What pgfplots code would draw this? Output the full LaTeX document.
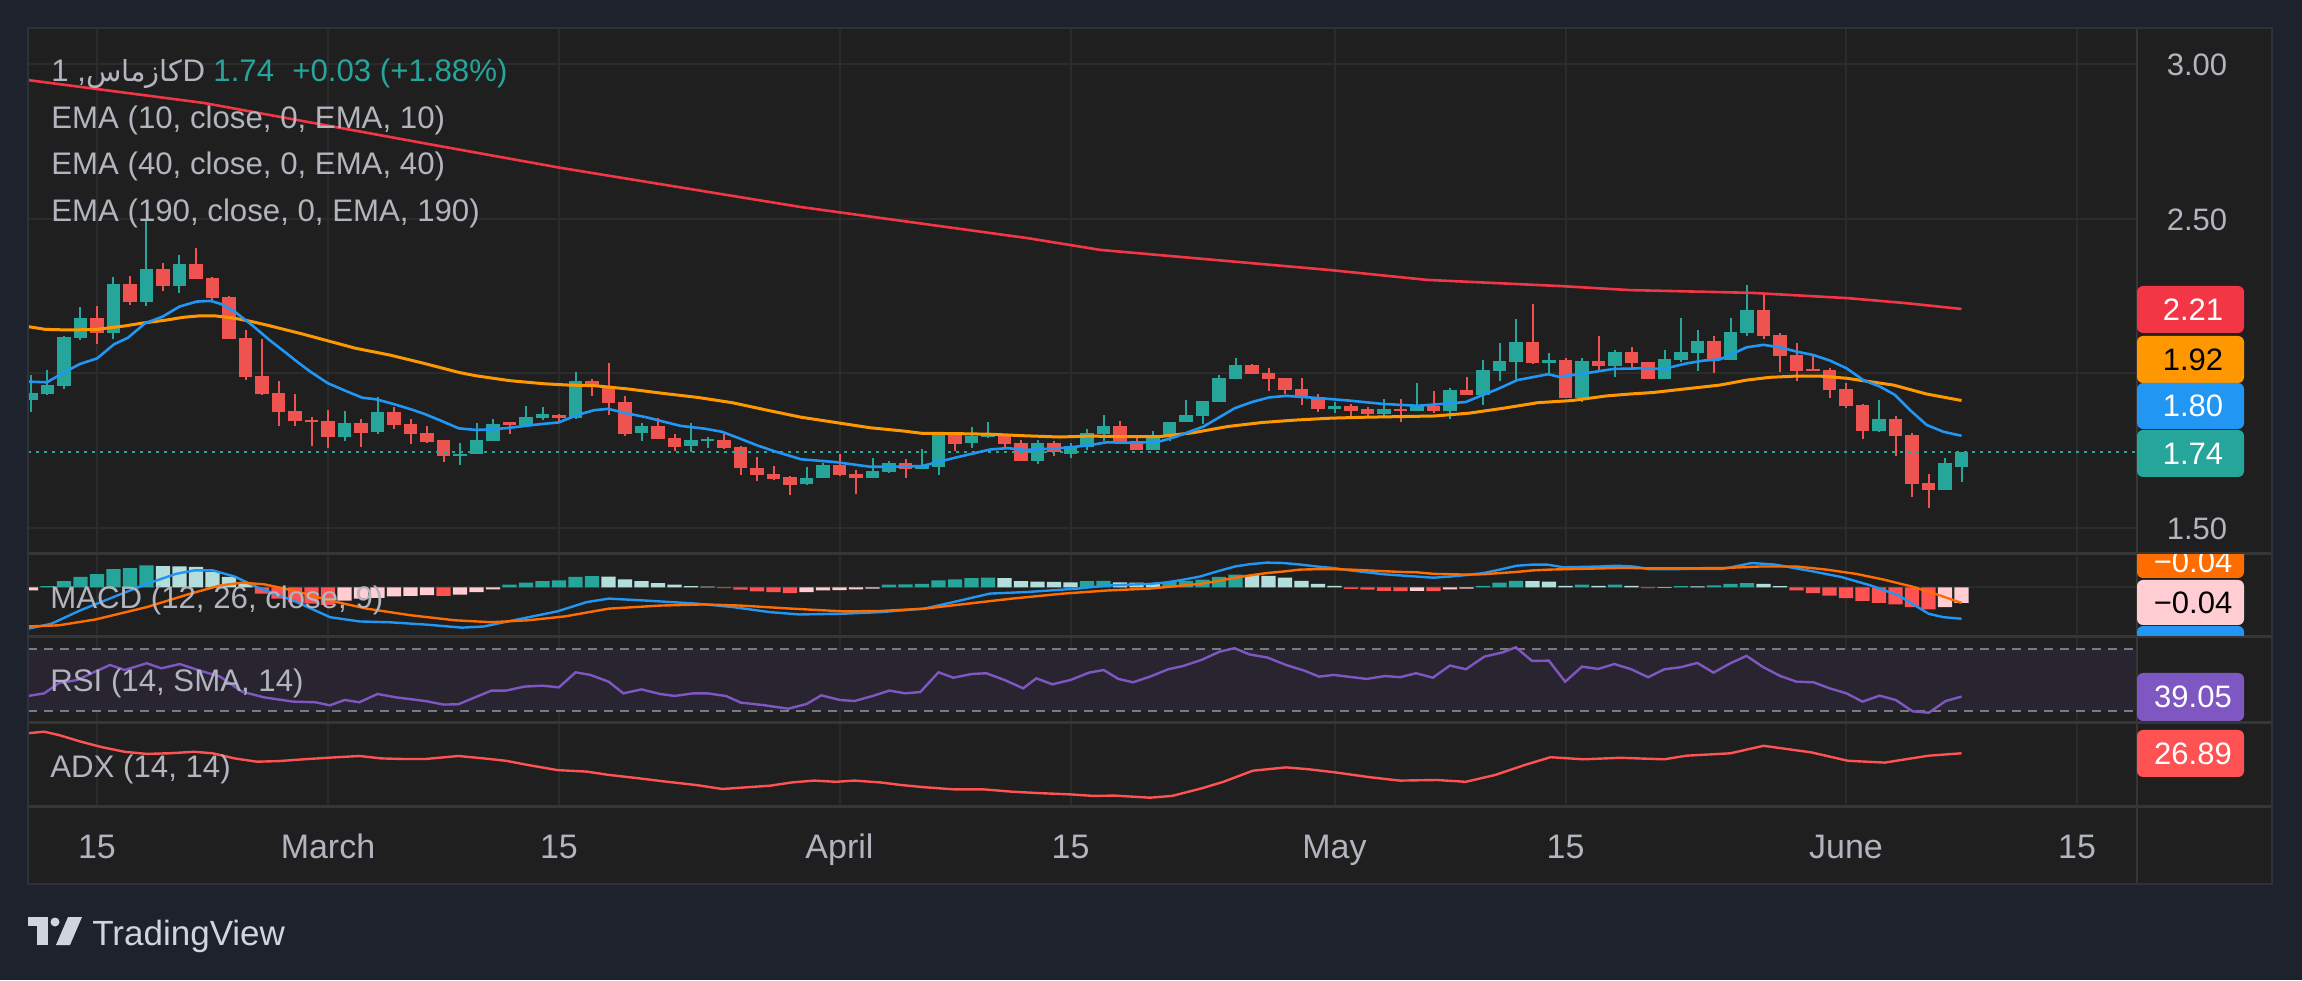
\documentclass[border=0pt]{standalone}
\usepackage{fontspec}
\setmainfont{Liberation Sans}
\newfontfamily\arabicfont[Script=Arabic]{DejaVu Sans}
\TeXXeTstate=1
\usepackage{pgfplots}
\usepackage{pgfplotstable}
\pgfplotsset{compat=1.18}

\definecolor{outerbg}{HTML}{1E222D}
\definecolor{panebg}{HTML}{1F1F1F}
\definecolor{gridc}{HTML}{2B2B2B}
\definecolor{sepc}{HTML}{363636}
\definecolor{framec}{HTML}{2E313A}
\definecolor{txtc}{HTML}{B2B5BE}
\definecolor{tvup}{HTML}{26A69A}
\definecolor{tvdown}{HTML}{EF5350}
\definecolor{ema10}{HTML}{2196F3}
\definecolor{ema40}{HTML}{FF9800}
\definecolor{ema190}{HTML}{F23645}
\definecolor{hup}{HTML}{26A69A}
\definecolor{huplight}{HTML}{B2DFDB}
\definecolor{hdown}{HTML}{FF5252}
\definecolor{hdownlight}{HTML}{FFCDD2}
\definecolor{macdc}{HTML}{2196F3}
\definecolor{sigc}{HTML}{FF6D00}
\definecolor{rsic}{HTML}{7E57C2}
\definecolor{rsiband}{HTML}{292530}
\definecolor{dashc}{HTML}{787B86}
\definecolor{adxc}{HTML}{FF5252}
\definecolor{logoc}{HTML}{D1D4DC}

\newcommand\legfont{\fontsize{15.6}{19}\selectfont}
\newcommand\pfont{\fontsize{15.5}{18}\selectfont}
\newcommand\tfont{\fontsize{17}{20}\selectfont}

% up candles: x low high bodybottom bodytop
\pgfplotstableread{
x l h b t
-4 1.876 1.995 1.914 1.935
-3 1.930 2.011 1.933 1.962
-2 1.950 2.121 1.960 2.117
-1 2.108 2.214 2.115 2.179
1 2.111 2.311 2.131 2.289
3 2.216 2.496 2.232 2.337
5 2.258 2.383 2.283 2.353
15 1.781 1.878 1.794 1.839
17 1.804 1.923 1.810 1.875
22 1.704 1.775 1.733 1.739
23 1.739 1.839 1.739 1.784
24 1.781 1.852 1.781 1.836
26 1.833 1.894 1.833 1.859
27 1.849 1.891 1.857 1.869
29 1.853 2.004 1.857 1.975
33 1.782 1.839 1.808 1.830
36 1.747 1.839 1.766 1.784
37 1.760 1.794 1.782 1.787
43 1.640 1.697 1.643 1.662
44 1.663 1.710 1.663 1.704
47 1.663 1.726 1.663 1.684
48 1.679 1.717 1.682 1.710
50 1.689 1.755 1.692 1.704
51 1.672 1.807 1.698 1.807
53 1.760 1.827 1.776 1.797
54 1.792 1.843 1.795 1.804
57 1.708 1.784 1.718 1.775
59 1.727 1.775 1.740 1.765
60 1.753 1.820 1.763 1.807
61 1.781 1.865 1.804 1.830
64 1.753 1.814 1.753 1.797
65 1.782 1.843 1.795 1.843
66 1.841 1.914 1.841 1.865
67 1.837 1.911 1.863 1.911
68 1.908 1.995 1.908 1.985
69 1.983 2.050 1.983 2.027
75 1.873 1.908 1.883 1.895
78 1.860 1.918 1.870 1.885
80 1.879 1.969 1.879 1.895
82 1.853 1.953 1.879 1.946
84 1.899 2.043 1.931 2.011
85 1.976 2.098 2.009 2.040
86 1.983 2.176 2.038 2.101
88 1.999 2.066 2.034 2.043
90 1.908 2.050 1.921 2.040
92 1.989 2.075 2.025 2.069
95 1.983 2.075 1.983 2.046
96 2.037 2.179 2.043 2.069
97 2.009 2.140 2.066 2.105
99 2.044 2.179 2.044 2.134
100 2.119 2.286 2.130 2.205
108 1.811 1.914 1.815 1.852
112 1.624 1.726 1.624 1.710
113 1.650 1.744 1.698 1.744
}\upT

% down candles: x low high bodybottom bodytop
\pgfplotstableread{
x l h b t
0 2.095 2.218 2.131 2.179
2 2.221 2.315 2.231 2.289
4 2.266 2.357 2.283 2.337
6 2.305 2.405 2.305 2.353
7 2.234 2.311 2.245 2.308
8 2.112 2.250 2.112 2.247
9 1.978 2.140 1.989 2.114
10 1.930 2.111 1.933 1.991
11 1.830 1.975 1.875 1.936
12 1.830 1.933 1.846 1.878
13 1.765 1.859 1.841 1.848
14 1.759 1.881 1.794 1.846
16 1.762 1.852 1.807 1.839
18 1.820 1.891 1.833 1.875
19 1.772 1.852 1.804 1.836
20 1.775 1.830 1.778 1.807
21 1.713 1.784 1.733 1.784
25 1.804 1.843 1.833 1.841
28 1.839 1.869 1.857 1.865
30 1.925 1.982 1.957 1.975
31 1.866 2.033 1.905 1.960
32 1.798 1.927 1.805 1.907
34 1.786 1.856 1.789 1.830
35 1.750 1.804 1.763 1.791
38 1.756 1.804 1.760 1.784
39 1.672 1.765 1.695 1.762
40 1.653 1.730 1.672 1.694
41 1.656 1.700 1.659 1.675
42 1.605 1.668 1.640 1.665
45 1.669 1.739 1.672 1.704
46 1.611 1.688 1.663 1.675
49 1.663 1.723 1.692 1.710
52 1.750 1.807 1.773 1.804
55 1.760 1.804 1.773 1.804
56 1.718 1.784 1.718 1.775
58 1.734 1.781 1.744 1.775
62 1.775 1.846 1.778 1.830
63 1.753 1.797 1.753 1.781
70 1.999 2.030 1.999 2.027
71 1.944 2.017 1.983 2.001
72 1.934 1.985 1.947 1.985
73 1.899 1.985 1.921 1.949
74 1.876 1.933 1.883 1.923
76 1.863 1.902 1.879 1.895
77 1.857 1.892 1.870 1.883
79 1.841 1.918 1.879 1.886
81 1.873 1.944 1.879 1.895
83 1.931 1.988 1.931 1.946
87 2.031 2.224 2.034 2.101
89 1.921 2.050 1.921 2.043
91 2.005 2.121 2.025 2.040
93 2.015 2.085 2.034 2.069
94 1.980 2.037 1.983 2.037
98 2.002 2.121 2.044 2.105
101 2.111 2.253 2.121 2.205
102 2.005 2.130 2.056 2.124
103 1.976 2.098 2.009 2.059
104 2.006 2.063 2.006 2.014
105 1.921 2.017 1.947 2.011
106 1.889 1.969 1.895 1.949
107 1.789 1.901 1.815 1.898
109 1.734 1.862 1.798 1.852
110 1.601 1.807 1.643 1.801
111 1.566 1.675 1.624 1.645
}\downT

\pgfplotsset{
  pane/.style={scale only axis, anchor=south west, width=1054.5pt,
    xmin=-4.1818, xmax=123.636, enlargelimits=false,
    axis line style={draw=none}, tick style={draw=none},
    xtick={0,14,28,45,59,75,89,106,120}, xticklabels={}, yticklabels={},
    xmajorgrids, major grid style={draw=gridc, line width=1pt}, clip=true},
  wick/.style={draw=none, mark=none, forget plot, error bars/.cd, y dir=plus, y explicit,
    error mark=none, error bar style={draw=#1, line width=1pt}},
  body/.style={draw=none, mark=none, forget plot, error bars/.cd, y dir=plus, y explicit,
    error mark=none, error bar style={draw=#1, line width=6.9pt}},
  hbar/.style={ybar, bar width=7.2pt, bar shift=0pt, fill=#1, draw=none, forget plot},
}

\begin{document}
\begin{tikzpicture}
\begin{scope}[x=0.5pt,y=0.5pt]
\useasboundingbox (0,0) rectangle (2302,980);
\fill[outerbg] (0,0) rectangle (2302,980);
\fill[panebg] (28,96) rectangle (2272,952);
\end{scope}

% ---------------- price pane ----------------
\begin{axis}[pane, at={(14pt,213pt)}, height=263pt,
  ymin=1.4158, ymax=3.1164, ytick={1.5,2,2.5,3}, ymajorgrids]
\addplot[wick=tvup] table[x=x, y=l, y error expr=\thisrow{h}-\thisrow{l}] {\upT};
\addplot[body=tvup] table[x=x, y=b, y error expr=\thisrow{t}-\thisrow{b}] {\upT};
\addplot[wick=tvdown] table[x=x, y=l, y error expr=\thisrow{h}-\thisrow{l}] {\downT};
\addplot[body=tvdown] table[x=x, y=b, y error expr=\thisrow{t}-\thisrow{b}] {\downT};
\addplot[tvup, line width=1pt, dash pattern=on 1.5pt off 2.5pt] coordinates {(-4.1818,1.744) (123.636,1.744)};
\addplot[ema190, line width=1.3pt] coordinates {(-4.18,2.948) (6.48,2.874) (20.42,2.738) (28.12,2.664) (42.6,2.538) (56.4,2.437) (60.8,2.399) (74.7,2.334) (80.6,2.302) (88.7,2.282) (92.9,2.269) (100.3,2.260) (106.1,2.243) (109.6,2.227) (113.0,2.208)};
\addplot[ema40, line width=1.5pt] coordinates {(-4.18,2.151) (-3.13,2.142) (-1.67,2.140) (0,2.142) (1.67,2.153) (2.71,2.162) (4.18,2.172) (5.22,2.181) (6.26,2.186) (7.10,2.186) (8.35,2.178) (9.39,2.167) (10.44,2.154) (11.48,2.140) (12.53,2.126) (13.99,2.105) (15.66,2.081) (17.75,2.059) (19.83,2.032) (21.92,2.003) (22.96,1.992) (25.05,1.976) (27.14,1.966) (28.56,1.962) (30.15,1.960) (32.24,1.949) (34.32,1.935) (36.41,1.922) (38.50,1.905) (40.59,1.881) (42.67,1.858) (44.76,1.841) (46.85,1.824) (48.94,1.813) (49.98,1.806) (52.07,1.805) (54.16,1.803) (56.24,1.798) (58.33,1.794) (60.18,1.797) (62.27,1.795) (64.35,1.795) (66.44,1.808) (68.53,1.828) (70.62,1.841) (72.71,1.849) (74.8,1.855) (76.88,1.858) (78.97,1.860) (81.06,1.862) (83.14,1.871) (85.23,1.887) (87.32,1.905) (89.41,1.912) (91.5,1.927) (92.9,1.933) (94.32,1.938) (96.34,1.950) (98.36,1.962) (99.98,1.978) (101.39,1.987) (103.01,1.991) (104.42,1.991) (106.04,1.984) (107.05,1.976) (108.87,1.962) (110.89,1.933) (113.0,1.912)};
\addplot[ema10, line width=1.3pt] coordinates {(-4.18,1.973) (-3.03,1.971) (-2.09,2.000) (-1.04,2.030) (0,2.048) (1.04,2.094) (1.88,2.115) (2.92,2.162) (3.97,2.183) (5.01,2.216) (6.05,2.232) (6.89,2.234) (7.52,2.224) (8.35,2.199) (9.39,2.156) (10.44,2.108) (11.48,2.065) (12.11,2.038) (12.94,2.005) (13.99,1.968) (15.03,1.944) (16.08,1.921) (16.91,1.916) (17.95,1.901) (19.00,1.884) (19.83,1.869) (20.88,1.846) (21.92,1.822) (22.96,1.817) (24.01,1.819) (25.05,1.824) (26.10,1.831) (27.14,1.837) (27.97,1.841) (29.10,1.865) (30.15,1.881) (30.98,1.885) (32.24,1.869) (33.28,1.858) (34.32,1.844) (35.37,1.830) (36.83,1.821) (37.87,1.811) (38.92,1.790) (39.96,1.768) (41.00,1.749) (42.67,1.722) (44.76,1.713) (46.85,1.698) (48.1,1.698) (49.98,1.700) (51.02,1.714) (52.07,1.728) (54.16,1.754) (55.2,1.758) (56.24,1.752) (58.33,1.758) (59.38,1.763) (60.18,1.768) (61.2,1.777) (62.9,1.775) (64.35,1.779) (65.4,1.795) (67.07,1.828) (68.95,1.887) (69.99,1.907) (71.04,1.922) (72.08,1.927) (73.75,1.921) (75.84,1.912) (77.93,1.901) (80.01,1.895) (81.06,1.899) (82.94,1.907) (85.02,1.952) (86.07,1.978) (87.95,1.997) (88.57,1.989) (89.82,1.997) (91.91,2.014) (93.51,2.016) (94.93,2.014) (96.34,2.032) (97.35,2.041) (98.36,2.045) (99.98,2.084) (100.99,2.092) (102.0,2.084) (103.01,2.070) (104.02,2.059) (105.03,2.041) (106.04,2.016) (107.05,1.978) (108.06,1.957) (108.97,1.930) (109.88,1.881) (110.89,1.833) (111.9,1.811) (113.0,1.798)};
\end{axis}

% ---------------- MACD pane ----------------
\begin{axis}[pane, at={(14pt,171.5pt)}, height=41.5pt,
  ymin=-0.1282, ymax=0.0863, ytick={0}, ymajorgrids]
\addplot[hbar=hup] coordinates {(-3,0.003) (-2,0.016) (-1,0.027) (0,0.034) (1,0.047) (2,0.050) (3,0.057) (25,0.007) (26,0.012) (27,0.016) (28,0.018) (29,0.027) (30,0.029) (48,0.007) (49,0.008) (50,0.009) (51,0.018) (52,0.021) (53,0.024) (54,0.025) (60,0.016) (61,0.017) (65,0.014) (66,0.017) (67,0.020) (68,0.027) (69,0.033) (84,0.004) (85,0.012) (86,0.017) (90,0.007) (92,0.007) (96,0.003) (98,0.005) (99,0.009) (100,0.011)};
\addplot[hbar=huplight] coordinates {(4,0.055) (5,0.054) (6,0.053) (7,0.040) (8,0.027) (9,0.011) (31,0.028) (32,0.021) (33,0.016) (34,0.011) (35,0.007) (36,0.003) (37,0.002) (55,0.024) (56,0.016) (57,0.015) (58,0.014) (59,0.013) (62,0.013) (63,0.012) (64,0.011) (70,0.032) (71,0.030) (72,0.025) (73,0.017) (74,0.009) (75,0.004) (87,0.0165) (88,0.015) (89,0.004) (91,0.004) (93,0.004) (97,0.0025) (101,0.009) (102,0.003)};
\addplot[hbar=hdown] coordinates {(10,-0.016) (11,-0.029) (12,-0.038) (13,-0.042) (14,-0.045) (21,-0.022) (38,-0.002) (39,-0.006) (40,-0.010) (41,-0.012) (42,-0.015) (76,-0.004) (77,-0.006) (78,-0.009) (79,-0.0095) (81,-0.0095) (94,-0.002) (103,-0.008) (104,-0.015) (105,-0.021) (106,-0.028) (107,-0.035) (108,-0.040) (109,-0.044) (110,-0.051) (111,-0.057)};
\addplot[hbar=hdownlight] coordinates {(-4,-0.008) (15,-0.034) (16,-0.029) (17,-0.027) (18,-0.023) (19,-0.022) (20,-0.020) (22,-0.019) (23,-0.012) (24,-0.005) (43,-0.012) (44,-0.008) (45,-0.007) (46,-0.005) (47,-0.003) (80,-0.009) (82,-0.005) (83,-0.0035) (95,-0.0015) (112,-0.051) (113,-0.040)};
\addplot[macdc, line width=1.2pt] coordinates {(-4.19,-0.107) (-2.77,-0.094) (-0.99,-0.059) (1.23,-0.021) (3.01,0.009) (4.79,0.035) (5.90,0.044) (7.01,0.044) (8.34,0.028) (9.68,0.001) (11.9,-0.034) (14.12,-0.077) (15.90,-0.088) (17.68,-0.090) (19.90,-0.096) (22.12,-0.104) (23.45,-0.101) (25.24,-0.085) (27.9,-0.062) (29.68,-0.038) (31.01,-0.029) (33.24,-0.034) (36.35,-0.042) (38.57,-0.051) (40.79,-0.064) (42.57,-0.070) (45.24,-0.068) (47.46,-0.064) (50.12,-0.055) (51.90,-0.038) (54.12,-0.016) (56.35,-0.012) (59.46,-0.003) (61.24,0.005) (63.82,0.009) (64.83,0.013) (65.84,0.020) (66.85,0.028) (67.86,0.041) (68.97,0.054) (69.88,0.060) (70.89,0.064) (71.9,0.063) (72.91,0.059) (73.92,0.054) (74.93,0.050) (75.94,0.044) (76.95,0.039) (77.96,0.034) (78.97,0.031) (79.98,0.028) (80.99,0.025) (82.0,0.028) (83.01,0.032) (84.02,0.037) (85.03,0.046) (86.04,0.056) (87.05,0.059) (87.86,0.059) (88.87,0.052) (90.08,0.053) (91.09,0.054) (92.1,0.056) (93.11,0.054) (94.12,0.047) (95.33,0.047) (96.8,0.048) (98.55,0.048) (100.3,0.063) (101.7,0.059) (103.9,0.042) (105.7,0.027) (107.5,0.005) (109.2,-0.021) (111.0,-0.068) (111.9,-0.077) (113.0,-0.081)};
\addplot[sigc, line width=1.2pt] coordinates {(-4.19,-0.101) (-2.32,-0.098) (-0.1,-0.083) (3.01,-0.051) (5.68,-0.016) (7.46,0.005) (8.79,0.012) (10.12,0.008) (11.9,-0.008) (14.12,-0.034) (16.35,-0.055) (19.01,-0.072) (21.68,-0.085) (23.9,-0.090) (26.12,-0.085) (28.35,-0.075) (31.01,-0.055) (34.13,-0.047) (36.79,-0.044) (39.01,-0.047) (42.12,-0.055) (45.24,-0.062) (47.46,-0.061) (50.12,-0.055) (52.79,-0.042) (55.45,-0.029) (58.57,-0.016) (61.24,-0.008) (63.82,-0.003) (64.83,0.001) (65.84,0.005) (66.85,0.009) (67.86,0.016) (68.87,0.024) (69.88,0.031) (70.89,0.037) (71.9,0.041) (72.91,0.046) (73.92,0.047) (74.93,0.047) (75.94,0.046) (76.95,0.044) (77.96,0.042) (78.97,0.040) (79.98,0.039) (80.99,0.035) (82.0,0.034) (83.01,0.033) (84.02,0.034) (85.03,0.037) (86.04,0.040) (87.05,0.044) (88.06,0.046) (89.07,0.047) (90.08,0.048) (91.09,0.049) (92.1,0.050) (93.11,0.050) (94.12,0.049) (95.33,0.049) (98.55,0.050) (100.8,0.054) (103.0,0.054) (104.8,0.046) (106.6,0.035) (108.3,0.020) (110.1,0.001) (111.5,-0.018) (113.0,-0.040)};
\end{axis}

% ---------------- RSI pane ----------------
\begin{axis}[pane, at={(14pt,128.5pt)}, height=43pt, ymin=22, ymax=78, ytick=\empty]
\addplot[draw=none, fill=rsiband, forget plot] coordinates {(-5,30) (125,30) (125,70) (-5,70)} -- cycle;
\addplot[dashc, line width=1pt, dash pattern=on 4.5pt off 3.5pt] coordinates {(-4.1818,70) (123.636,70)};
\addplot[dashc, line width=1pt, dash pattern=on 4.5pt off 3.5pt] coordinates {(-4.1818,30) (123.636,30)};
\addplot[rsic, line width=1.2pt] coordinates {(-4.19,39.6) (-3.2,41.3) (-2.32,47.9) (-1.21,50.0) (-0.1,55.5) (0.79,59.8) (1.68,56.5) (3.01,60.9) (3.9,57.6) (5.01,60.4) (6.12,56.5) (7.46,52.2) (8.79,42.4) (10.12,38.7) (11.9,35.9) (13.23,35.5) (14.12,33.5) (15.01,37.0) (15.9,35.5) (17.0,40.9) (18.12,38.7) (19.9,36.3) (21.0,34.0) (21.9,34.2) (23.9,43.1) (24.79,43.1) (25.9,45.7) (27.01,46.3) (27.99,45.2) (29.01,55.0) (29.9,53.3) (31.01,48.9) (31.9,41.3) (33.0,43.9) (34.12,40.9) (35.01,39.6) (36.12,41.3) (37.01,41.3) (38.12,39.6) (39.01,35.3) (40.35,33.7) (41.9,31.3) (43.01,34.4) (43.9,40.0) (45.01,37.0) (45.9,36.3) (47.01,39.6) (48.03,43.1) (49.0,41.3) (49.9,42.2) (51.0,55.0) (51.9,51.5) (53.0,53.9) (53.9,54.4) (55.0,50.0) (56.13,44.6) (56.93,51.1) (57.9,47.2) (59.0,50.0) (60.12,54.8) (61.01,56.5) (61.9,50.7) (62.79,48.5) (63.82,52.2) (64.93,57.0) (65.82,59.1) (66.94,63.1) (68.05,68.5) (68.94,70.7) (69.83,66.7) (70.94,64.6) (72.06,59.8) (73.17,56.1) (74.06,52.2) (74.95,53.3) (76.95,50.7) (78.07,52.6) (78.96,51.8) (79.94,54.4) (80.96,51.5) (81.99,59.4) (82.96,57.0) (84.08,65.2) (85.19,68.0) (85.99,71.3) (86.97,62.4) (87.99,62.6) (88.98,48.9) (90.0,58.7) (90.98,57.2) (91.96,60.4) (92.98,57.0) (94.01,51.8) (94.99,57.0) (95.97,58.3) (96.99,61.1) (97.97,54.8) (98.99,60.9) (99.97,65.7) (100.99,58.3) (102.02,52.6) (103.0,48.9) (104.03,48.5) (105.0,44.6) (106.03,41.3) (107.0,35.9) (108.03,39.8) (109.01,37.0) (110.04,29.6) (111.02,28.7) (112.04,36.3) (113.0,39.2)};
\end{axis}

% ---------------- ADX pane ----------------
\begin{axis}[pane, at={(14pt,86.5pt)}, height=42pt, ymin=9, ymax=37, ytick=\empty,
  xticklabels={15,March,15,April,15,May,15,June,15},
  xticklabel style={font=\tfont, text=txtc, anchor=base, inner sep=0pt, yshift=-25.5pt}]
\addplot[adxc, line width=1.2pt] coordinates {(-4.19,33.6) (-3.2,34.1) (-2.32,33.0) (-0.99,30.8) (0.34,28.9) (1.68,27.4) (3.01,26.7) (4.34,26.9) (5.9,27.4) (7.01,26.9) (8.34,25.2) (9.68,24.1) (11.0,24.3) (12.79,25.0) (14.57,25.6) (15.9,26.0) (17.23,25.2) (18.57,25.0) (19.9,25.0) (21.9,26.0) (23.45,25.2) (24.79,24.4) (26.12,23.0) (27.9,21.3) (29.68,20.8) (31.01,19.7) (32.79,18.6) (34.57,17.4) (36.35,16.3) (37.9,15.0) (39.46,15.6) (40.79,16.1) (42.12,17.2) (43.46,17.8) (44.79,17.4) (45.9,17.8) (47.46,17.2) (48.79,16.3) (50.12,15.6) (51.9,14.9) (53.68,14.9) (55.45,14.1) (57.23,13.6) (59.01,13.2) (60.35,12.7) (61.68,12.8) (63.82,12.1) (65.16,12.7) (66.94,15.2) (68.27,17.4) (70.05,21.1) (72.06,22.2) (73.39,21.6) (74.95,20.6) (77.18,18.9) (78.96,17.8) (81.18,18.0) (82.96,17.4) (84.75,19.7) (86.53,23.0) (88.09,25.6) (90.09,24.9) (92.32,25.4) (94.99,24.9) (96.32,26.1) (98.99,26.9) (101.0,29.4) (103.9,27.2) (106.12,24.4) (108.34,23.8) (111.0,26.1) (113.0,26.9)};
\end{axis}

\begin{scope}[x=0.5pt,y=0.5pt]
% separators and frame
\draw[sepc, line width=1.5pt] (28,426) -- (2272,426);
\draw[sepc, line width=1.5pt] (28,343) -- (2272,343);
\draw[sepc, line width=1.5pt] (28,257) -- (2272,257);
\draw[sepc, line width=1.5pt] (28,173) -- (2272,173);
\draw[sepc, line width=0.6pt] (2137,96) -- (2137,952);
\draw[framec, line width=1pt] (28,96) rectangle (2272,952);

% legend texts
\node[anchor=base west, inner sep=0, text=txtc, font=\legfont] at (51,898.3) {1 ,{\arabicfont\fontsize{14.5}{17}\selectfont\beginR کازماس\endR}D};
\node[anchor=base west, inner sep=0, text=tvup, font=\legfont] at (213,898.3) {1.74};
\node[anchor=base west, inner sep=0, text=tvup, font=\legfont] at (292,898.3) {+0.03 (+1.88\%)};
\node[anchor=base west, inner sep=0, text=txtc, font=\legfont] at (51,851.7) {EMA (10, close, 0, EMA, 10)};
\node[anchor=base west, inner sep=0, text=txtc, font=\legfont] at (51,805) {EMA (40, close, 0, EMA, 40)};
\node[anchor=base west, inner sep=0, text=txtc, font=\legfont] at (51,758.3) {EMA (190, close, 0, EMA, 190)};
\node[anchor=base west, inner sep=0, text=txtc, font=\legfont] at (50,371.7) {MACD (12, 26, close, 9)};
\node[anchor=base west, inner sep=0, text=txtc, font=\legfont] at (50,288.3) {RSI (14, SMA, 14)};
\node[anchor=base west, inner sep=0, text=txtc, font=\legfont] at (50,202.7) {ADX (14, 14)};

% price scale
\node[text=txtc, font=\pfont, inner sep=0] at (2197,915.4) {3.00};
\node[text=txtc, font=\pfont, inner sep=0] at (2197,760) {2.50};
\node[text=txtc, font=\pfont, inner sep=0] at (2197,451.5) {1.50};
\fill[ema190, rounded corners=3pt] (2137,647) rectangle (2244,694);
\node[text=white, font=\pfont, inner sep=0] at (2193,670.5) {2.21};
\fill[ema40, rounded corners=3pt] (2137,597) rectangle (2244,644);
\node[text=black, font=\pfont, inner sep=0] at (2193,620.5) {1.92};
\fill[ema10, rounded corners=3pt] (2137,551) rectangle (2244,597);
\node[text=white, font=\pfont, inner sep=0] at (2193,574) {1.80};
\fill[tvup, rounded corners=3pt] (2137,503) rectangle (2244,550);
\node[text=white, font=\pfont, inner sep=0] at (2193,526.5) {1.74};

\begin{scope}
\clip (2137,344) rectangle (2272,425);
\fill[sigc, rounded corners=3pt] (2137,402) rectangle (2244,433);
\node[text=white, font=\pfont, inner sep=0] at (2193,418) {−0.04};
\fill[macdc, rounded corners=3pt] (2137,308) rectangle (2244,354);
\fill[hdownlight, rounded corners=3pt] (2137,355) rectangle (2244,400);
\node[text=black, font=\pfont, inner sep=0] at (2193,377.5) {−0.04};
\end{scope}
\fill[rsic, rounded corners=3pt] (2137,259) rectangle (2244,307);
\node[text=white, font=\pfont, inner sep=0] at (2193,283) {39.05};
\fill[adxc, rounded corners=3pt] (2137,203) rectangle (2244,250);
\node[text=white, font=\pfont, inner sep=0] at (2193,226.5) {26.89};

% logo
\fill[logoc] (28,54) rectangle (48,63);
\fill[logoc] (37,35) rectangle (48,54);
\fill[logoc] (55,58) circle (4.5);
\fill[logoc] (68,63) -- (82,63) -- (70,35) -- (56,35) -- cycle;
\node[anchor=base west, inner sep=0, text=logoc, font=\fontsize{17.5}{20}\selectfont] at (92,35) {TradingView};
\end{scope}
\end{tikzpicture}
\end{document}
